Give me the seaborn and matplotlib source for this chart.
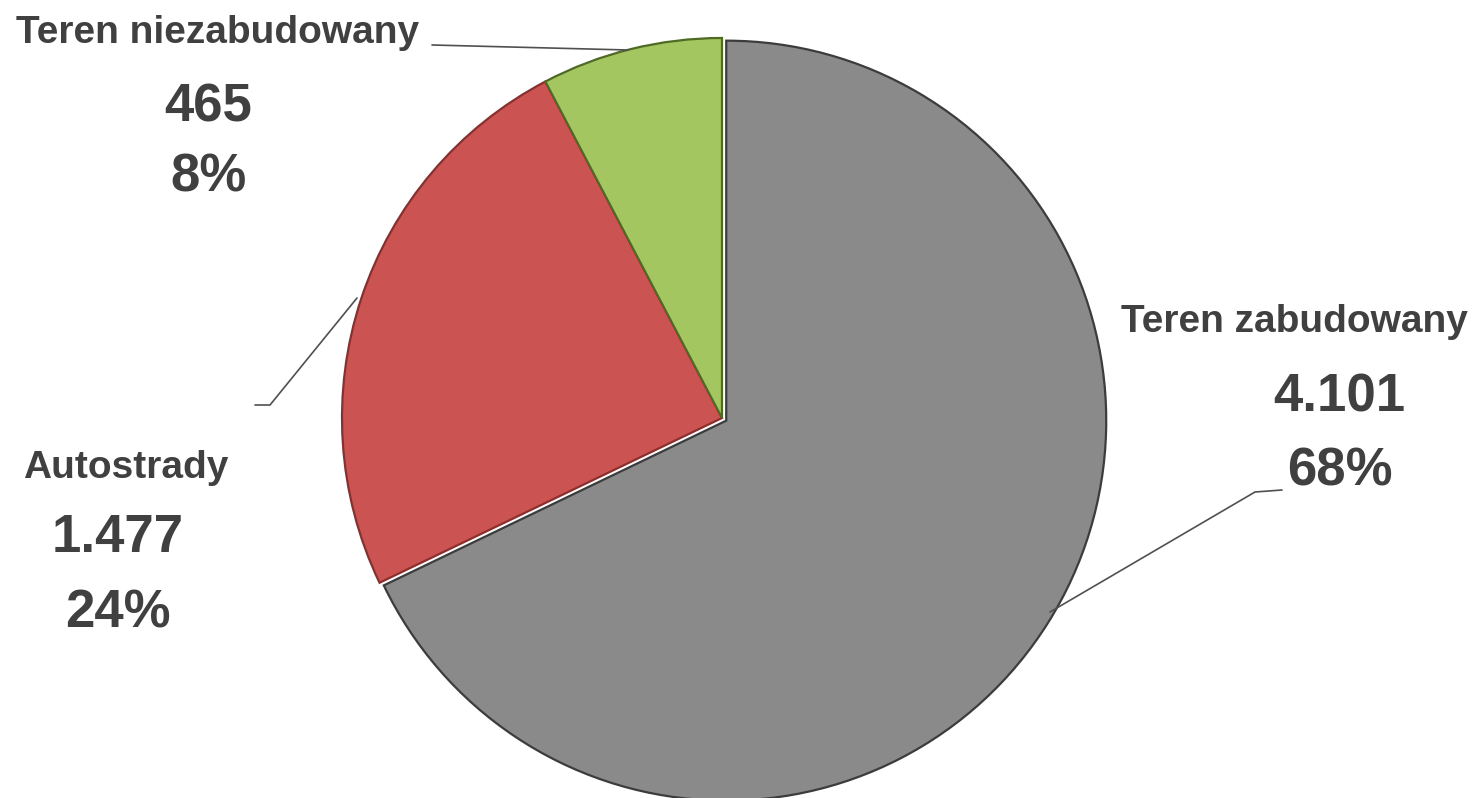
import matplotlib
matplotlib.use("Agg")
import matplotlib.pyplot as plt
import seaborn as sns

sns.set_theme(style="white")
plt.rcParams['font.family'] = ['Liberation Sans', 'DejaVu Sans']

# data
categories = ["Teren zabudowany", "Autostrady", "Teren niezabudowany"]
values = [4101, 1477, 465]
colors = ["#8a8a8a", "#cb5452", "#a4c660"]
edges = ["#3c3c3c", "#8a2f2e", "#4f6a22"]

W, H = 1473, 798
fig = plt.figure(figsize=(W / 100, H / 100), dpi=100)
ax = fig.add_axes([0, 0, 1, 1])

total = sum(values)
wedges, _ = ax.pie(values, colors=colors, startangle=90, counterclock=False,
                   center=(722, H - 418), radius=380, explode=[5, 0, 0],
                   wedgeprops=dict(linewidth=1.6))
for w, ec in zip(wedges, edges):
    w.set_edgecolor(ec)

ax.set_xlim(0, W)
ax.set_ylim(0, H)
ax.set_aspect("equal")
ax.axis("off")

txt = "#404040"
# label positions in pixels (x centre, y centre from top): name, value, percent
pos = {
    "Teren zabudowany": [(1294, 322), (1339, 397), (1340, 471)],
    "Autostrady": [(126, 468), (118, 538), (118, 613)],
    "Teren niezabudowany": [(218, 33), (208, 107), (208, 178)],
}
for cat, v in zip(categories, values):
    (x0, y0), (x1, y1), (x2, y2) = pos[cat]
    ax.text(x0, H - y0, cat, ha="center", va="center", fontsize=28,
            fontweight="bold", color=txt)
    ax.text(x1, H - y1, f"{v:,}".replace(",", "."), ha="center", va="center",
            fontsize=38, fontweight="bold", color=txt)
    ax.text(x2, H - y2, f"{v / total:.0%}", ha="center", va="center",
            fontsize=38, fontweight="bold", color=txt)

# leader lines
leaders = [
    [(1050, 612), (1255, 492), (1282, 490)],
    [(255, 405), (270, 405), (357, 298)],
    [(432, 45), (628, 50)],
]
for pts in leaders:
    ax.plot([p[0] for p in pts], [H - p[1] for p in pts], color="#505050", lw=1.2)

fig.savefig("out.png", dpi=100)
